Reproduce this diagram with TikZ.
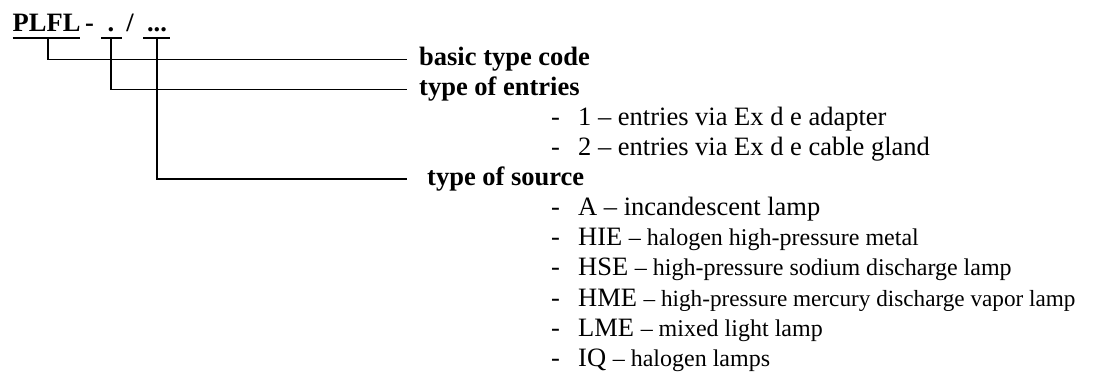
\documentclass[tikz,border=0pt]{standalone}
\usepackage{fontspec}
\setmainfont{Liberation Serif}
\newcommand{\bigtxt}{\fontsize{26.5}{30}\selectfont}
\newcommand{\smalltxt}{\fontsize{24}{28}\selectfont}
\newcommand{\smallertxt}{\fontsize{23.2}{28}\selectfont}
\begin{document}
\begin{tikzpicture}[x=1pt,y=-1pt,
  conn/.style={line width=1.6pt},
  ttl/.style={inner sep=0pt, font=\bigtxt\bfseries},
  lbl/.style={inner sep=0pt, anchor=base west, font=\bigtxt\bfseries},
  item/.style={inner sep=0pt, anchor=base west, font=\bigtxt},
  bullet/.style={inner sep=0pt, anchor=base west, font=\bigtxt}]
\useasboundingbox (0,0) rectangle (1095,374);
% title
\node[ttl, anchor=base west] (plfl) at (12.5,31.7) {PLFL};
\node[ttl, anchor=base] (hy) at (89.5,31.7) {-};
\node[ttl, anchor=base] (dot) at (111,31.7) {.};
\node[ttl, anchor=base] (sl) at (130,31.7) {/};
\node[ttl, anchor=base] (dots) at (157,31.7) {...};
% underlines
\coordinate (u1a) at (12.7,38); \coordinate (u1b) at (80,38);
\coordinate (u2a) at (101,38);  \coordinate (u2b) at (122,38);
\coordinate (u3a) at (143,38);  \coordinate (u3b) at (170,38);
\draw[conn] (u1a) -- (u1b);
\draw[conn] (u2a) -- (u2b);
\draw[conn] (u3a) -- (u3b);
% labels
\node[lbl] (l1) at (419,65.5) {basic type code};
\node[lbl] (l2) at (419,95.5) {type of entries};
\node[lbl] (l3) at (427,186) {type of source};
% line ends
\coordinate (s1) at (48,38);  \coordinate (e1) at (407,59.5);
\coordinate (s2) at (111,38); \coordinate (e2) at (407,89.5);
\coordinate (s3) at (157,38); \coordinate (e3) at (407,179);
\draw[conn] (s1) |- (e1);
\draw[conn] (s2) |- (e2);
\draw[conn] (s3) |- (e3);
% entries list
\foreach \y/\n in {125.5/b1,155.5/b2,216/b3,246/b4,276/b5,306/b6,336/b7,366/b8}
  \node[bullet] (\n) at (551,\y) {-};
\node[item] (i1) at (578,125.5) {1 – entries via Ex d e adapter};
\node[item] (i2) at (578,155.5) {2 – entries via Ex d e cable gland};
\node[item] (i3) at (578,216) {A – incandescent lamp};
\node[item] (i4) at (578,246) {HIE {\smalltxt – halogen high-pressure metal}};
\node[item] (i5) at (578,276) {HSE {\smalltxt – high-pressure sodium discharge lamp}};
\node[item] (i6) at (578,306) {HME {\smallertxt – high-pressure mercury discharge vapor lamp}};
\node[item] (i7) at (578,336) {LME {\smalltxt – mixed light lamp}};
\node[item] (i8) at (578,366) {IQ {\smalltxt – halogen lamps}};
\end{tikzpicture}
\end{document}
